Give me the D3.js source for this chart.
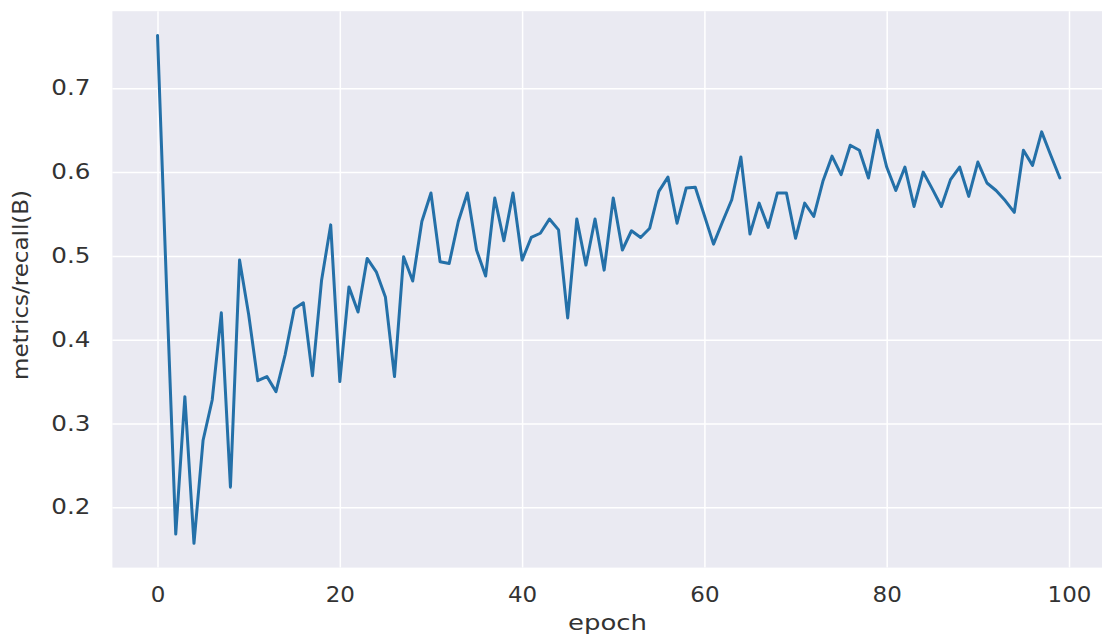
<!DOCTYPE html>
<html>
<head>
<meta charset="utf-8">
<script src="https://cdn.jsdelivr.net/npm/d3@7/dist/d3.min.js"></script>
<style>
  html, body { margin: 0; padding: 0; background: #ffffff; }
  svg { display: block; }
</style>
</head>
<body>
<svg id="chart" width="1102" height="641"></svg>
<script>
// ---- data ----
const epochs = d3.range(0, 100);
const recall = [
  0.763, 0.460, 0.168, 0.332, 0.157, 0.280, 0.328, 0.432, 0.224, 0.495,
  0.430, 0.351, 0.356, 0.338, 0.382, 0.437, 0.444, 0.357, 0.471, 0.537,
  0.350, 0.463, 0.433, 0.497, 0.481, 0.451, 0.356, 0.499, 0.470, 0.541,
  0.575, 0.493, 0.491, 0.541, 0.575, 0.507, 0.476, 0.569, 0.518, 0.575,
  0.495, 0.522, 0.527, 0.544, 0.531, 0.426, 0.544, 0.489, 0.544, 0.483,
  0.569, 0.507, 0.530, 0.522, 0.533, 0.577, 0.594, 0.539, 0.581, 0.582,
  0.548, 0.514, 0.541, 0.567, 0.618, 0.526, 0.563, 0.534, 0.575, 0.575,
  0.521, 0.563, 0.547, 0.589, 0.619, 0.597, 0.632, 0.626, 0.593, 0.650,
  0.606, 0.578, 0.606, 0.559, 0.600, 0.580, 0.559, 0.591, 0.606, 0.571,
  0.612, 0.587, 0.578, 0.566, 0.552, 0.626, 0.608, 0.648, 0.620, 0.593
];
const xTicks = [0, 20, 40, 60, 80, 100];
const yTicks = [0.2, 0.3, 0.4, 0.5, 0.6, 0.7];
const xLabel = "epoch";
const yLabel = "metrics/recall(B)";

// ---- layout ----
const svg = d3.select("#chart");
const plot = { left: 112.4, right: 1105, top: 11.2, bottom: 567.6 };

const x = d3.scaleLinear().domain([-4.95, 103.95]).range([plot.left, plot.right]);
const y = d3.scaleLinear().domain([0.128, 0.792]).range([plot.bottom, plot.top]);

// background
svg.append("rect")
  .attr("x", plot.left).attr("y", plot.top)
  .attr("width", plot.right - plot.left).attr("height", plot.bottom - plot.top)
  .attr("fill", "#eaeaf2");

// grid via axes
const gx = svg.append("g")
  .attr("transform", `translate(0,${plot.bottom})`)
  .call(d3.axisBottom(x).tickValues(xTicks).tickSize(-(plot.bottom - plot.top)).tickPadding(20).tickFormat(d3.format("d")));
const gy = svg.append("g")
  .attr("transform", `translate(${plot.left},0)`)
  .call(d3.axisLeft(y).tickValues(yTicks).tickSize(-(plot.right - plot.left)).tickPadding(22).tickFormat(d3.format(".1f")));

[gx, gy].forEach(g => {
  g.select(".domain").remove();
  g.selectAll(".tick line").attr("stroke", "#ffffff").attr("stroke-width", 1.5);
  g.selectAll(".tick text")
    .attr("fill", "#333333")
    .style("font-family", "'DejaVu Sans', sans-serif")
    .style("font-size", "20.5px");
});
gx.selectAll(".tick text").attr("dy", "0.71em");

// widen tick labels slightly (reference glyphs are horizontally stretched)
function stretch(sel, factor) {
  sel.each(function() {
    const w = this.getComputedTextLength();
    d3.select(this).attr("textLength", w * factor).attr("lengthAdjust", "spacingAndGlyphs");
  });
}
stretch(gy.selectAll(".tick text"), 1.2);
stretch(gx.selectAll(".tick text"), 1.12);

// line
const line = d3.line()
  .x((d, i) => x(epochs[i]))
  .y(d => y(d));

svg.append("path")
  .datum(recall)
  .attr("fill", "none")
  .attr("stroke", "#2470a8")
  .attr("stroke-width", 3)
  .attr("stroke-linejoin", "round")
  .attr("stroke-linecap", "round")
  .attr("d", line);

// axis labels
svg.append("text")
  .attr("x", 607.5).attr("y", 630)
  .attr("text-anchor", "middle")
  .attr("fill", "#333333")
  .attr("textLength", 79)
  .attr("lengthAdjust", "spacingAndGlyphs")
  .style("font-family", "'DejaVu Sans', sans-serif")
  .style("font-size", "21px")
  .text(xLabel);

svg.append("text")
  .attr("transform", "translate(28,285) rotate(-90)")
  .attr("text-anchor", "middle")
  .attr("fill", "#333333")
  .attr("textLength", 190)
  .attr("lengthAdjust", "spacingAndGlyphs")
  .style("font-family", "'DejaVu Sans Condensed', 'DejaVu Sans', sans-serif")
  .style("font-size", "21px")
  .text(yLabel);
</script>
</body>
</html>
